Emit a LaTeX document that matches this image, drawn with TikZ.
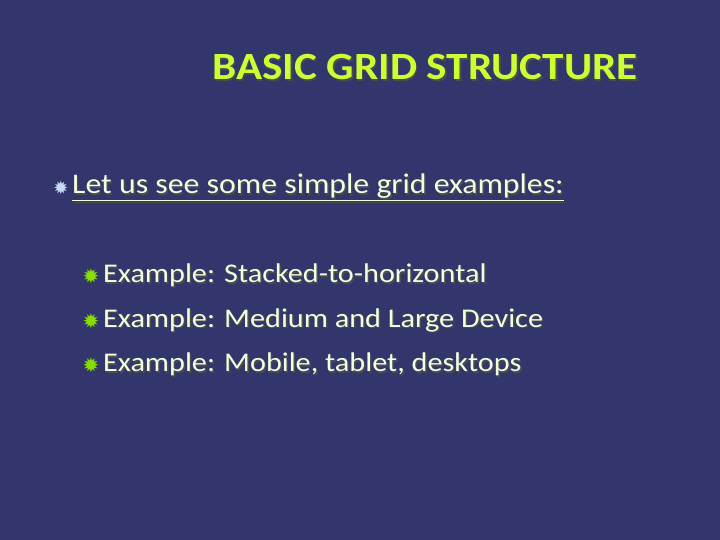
\documentclass[tikz,border=0pt]{standalone}
\usepackage{fontspec}
\setmainfont{Carlito}
\newfontfamily\dv{DejaVu Sans}
\newfontfamily\wide{Carlito}[FakeStretch=1.12]
\definecolor{bg}{HTML}{32366C}
\definecolor{ttl}{HTML}{CCFF33}
\definecolor{txt}{HTML}{F2FFE0}
\definecolor{bl}{HTML}{C8DCF8}
\definecolor{gr}{HTML}{88DD00}
\tikzset{
 tx/.style={anchor=base west,inner sep=0pt,text=txt},
 sh/.style={anchor=base west,inner sep=0pt,text=black!70},
}
\begin{document}
\begin{tikzpicture}[x=1pt,y=-1pt]
\useasboundingbox[fill=bg] (0,0) rectangle (720,540);
\node[anchor=base,inner sep=0pt,text=black!70,font=\wide\bfseries\fontsize{38.5}{40}\selectfont] at (426.5,81.5) {BASIC GRID STRUCTURE};
\node (title)[anchor=base,inner sep=0pt,text=ttl,font=\wide\bfseries\fontsize{38.5}{40}\selectfont] at (425,80) {BASIC GRID STRUCTURE};
\node (b0)[anchor=base,inner sep=0pt,text=bl,font=\dv\fontsize{18}{20}\selectfont] at (61,195) {✹};
\node[sh,font=\wide\fontsize{28.4}{32}\selectfont] at (73.5,195.5) {\underline{Let us see some simple grid examples:}};
\node (l0)[tx,font=\wide\fontsize{28.4}{32}\selectfont] at (72,194) {\underline{Let us see some simple grid examples:}};
\foreach \t [count=\i] in {Stacked-to-horizontal,Medium and Large Device,{Mobile, tablet, desktops}}{
 \node (s\i)[anchor=base,inner sep=0pt,text=gr,font=\dv\fontsize{20}{22}\selectfont] at (91,{239+44.5*\i}) {✹};
 \node[sh,font=\wide\fontsize{27}{28}\selectfont] at (104.5,{239.5+44.5*\i}) {Example: \t};
 \node (e\i)[tx,font=\wide\fontsize{27}{28}\selectfont] at (103,{238+44.5*\i}) {Example: \t};
}
\end{tikzpicture}
\end{document}
